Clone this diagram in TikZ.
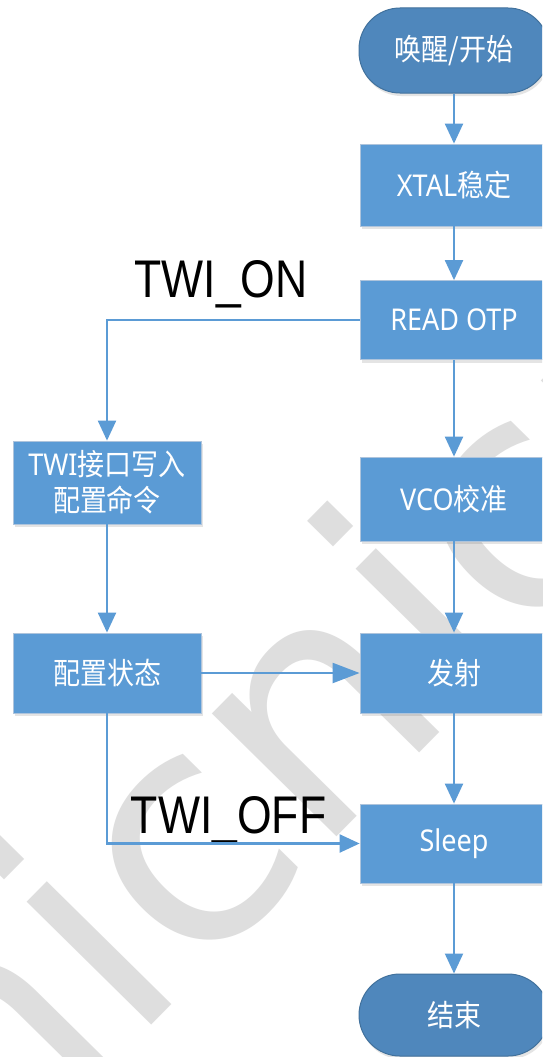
\documentclass[tikz,border=0pt]{standalone}
\usepackage{fontspec}
\setmainfont{Noto Sans}[FakeStretch=0.9]
\newfontfamily\cjk{Noto Sans CJK SC}[FakeStretch=0.9]
\newfontfamily\lblfont{Liberation Sans}[FakeStretch=0.84]
\newfontfamily\wmfont{DejaVu Sans}
\usetikzlibrary{arrows.meta,shadows}
\definecolor{boxblue}{HTML}{5B9BD5}
\definecolor{termblue}{HTML}{4F87BC}
\definecolor{termedge}{HTML}{41719C}
\definecolor{boxedge}{HTML}{AEC4DC}
\definecolor{wmgray}{HTML}{DEDEDE}
\begin{document}
\begin{tikzpicture}[x=1pt,y=-1pt,
  boxshadow/.style={drop shadow={shadow xshift=1.5pt,shadow yshift=-3pt,opacity=0.15,fill=black!70}},
  procbox/.style={rectangle,fill=boxblue,draw=boxedge,line width=0.8pt,minimum width=188pt,
    text=white,font=\fontsize{30}{36}\selectfont,align=center,inner sep=0pt,boxshadow},
  termbox/.style={rectangle,rounded corners=41pt,fill=termblue,draw=termedge,line width=1pt,
    minimum width=190pt,text=white,font=\fontsize{30}{36}\selectfont,align=center,inner sep=0pt,boxshadow},
  flow/.style={draw=boxblue,line width=2.2pt,-{Triangle[length=20pt,width=18pt]}},
  longflow/.style={draw=boxblue,line width=2.2pt,-{Triangle[length=27pt,width=20pt]}},
  lbl/.style={font=\lblfont\fontsize{53}{53}\selectfont,text=black,anchor=base,inner sep=0pt}]
\path[use as bounding box] (0,0) rectangle (542,1057);
\clip (0,0) rectangle (542,1057);
\fill[white] (0,0) rectangle (542,1057);
% watermark
\node[font=\wmfont\fontsize{320}{320}\selectfont,text=wmgray,rotate=45.4,anchor=base west,inner sep=0pt] (wm) at (-11.9,1191.1) {nicnicnic};
% nodes
\node[termbox,minimum height=85pt] (start) at (454,50.5) {{\cjk 唤醒/开始}};
\node[procbox,minimum height=82pt] (xtal) at (454,185) {XTAL{\cjk 稳定}};
\node[procbox,minimum height=79pt] (read) at (454,320) {READ OTP};
\node[procbox,minimum height=84pt] (vco) at (454,499) {VCO{\cjk 校准}};
\node[procbox,minimum height=83pt] (twi) at (107,482.5) {TWI{\cjk 接口写入}\\{\cjk 配置命令}};
\node[procbox,minimum height=80pt] (cfg) at (107,673) {{\cjk 配置状态}};
\node[procbox,minimum height=80pt] (fs) at (454,673) {{\cjk 发射}};
\node[procbox,minimum height=79pt] (sleep) at (454,843.5) {Sleep};
\node[termbox,minimum height=82pt] (end) at (454,1015) {{\cjk 结束}};
% labels
\node[lbl] (twion) at (221,297) {TWI\_ON};
\node[lbl] (twioff) at (228.5,833) {TWI\_OFF};
% connectors
\draw[flow] (start) -- (xtal);
\draw[flow] (xtal) -- (read);
\draw[flow] (read) -- (vco);
\draw[flow] (vco) -- (fs);
\draw[flow] (fs) -- (sleep);
\draw[flow] (sleep) -- (end);
\draw[flow] (read.west) -| (twi.north);
\draw[flow] (twi) -- (cfg);
\draw[longflow] (cfg) -- (fs);
\draw[flow] (cfg.south) |- (sleep.west);
\end{tikzpicture}
\end{document}
